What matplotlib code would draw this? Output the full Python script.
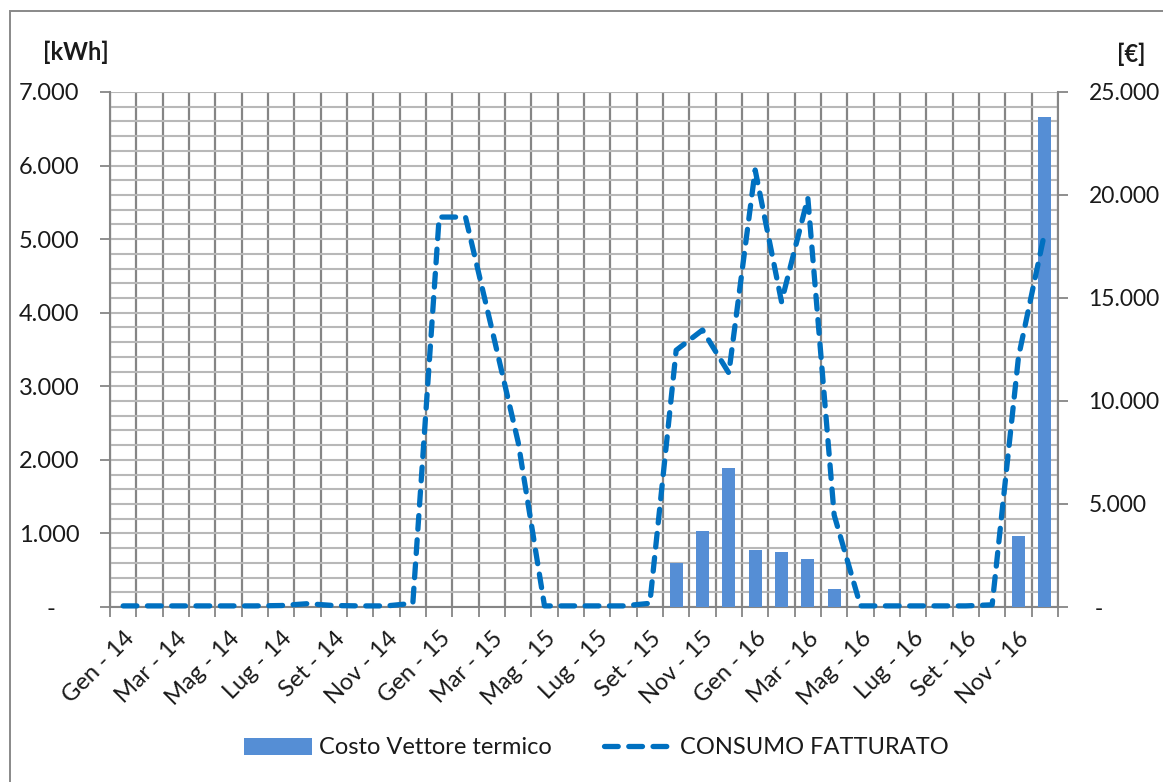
import numpy as np
import matplotlib
matplotlib.use("Agg")
import matplotlib.pyplot as plt
from matplotlib.patches import Rectangle, Patch
from matplotlib.lines import Line2D
from matplotlib.ticker import FuncFormatter

plt.rcParams['font.family'] = ['Lato', 'DejaVu Sans']

months = ["Gen", "Feb", "Mar", "Apr", "Mag", "Giu", "Lug", "Ago", "Set", "Ott", "Nov", "Dic"]
years = ["14", "15", "16"]
categories = [f"{m} - {y}" for y in years for m in months]

# CONSUMO FATTURATO [kWh]
consumo = [15, 15, 15, 15, 15, 15, 20, 45, 20, 15, 15, 50,
           5300, 5300, 3780, 2240, 15, 15, 15, 15, 50, 3490, 3765, 3180,
           5940, 4150, 5560, 1250, 15, 15, 15, 15, 15, 30, 3400, 5100]
# Costo Vettore termico [€]
costo = [0, 0, 0, 0, 0, 0, 0, 0, 0, 0, 0, 0,
         0, 0, 0, 0, 0, 0, 0, 0, 0, 2150, 3690, 6750,
         2770, 2690, 2310, 890, 0, 0, 0, 0, 0, 0, 3450, 23800]

left_ticks = [0, 1000, 2000, 3000, 4000, 5000, 6000, 7000]
right_ticks = [0, 5000, 10000, 15000, 20000, 25000]

W, H = 1163, 782
fig = plt.figure(figsize=(W / 100, H / 100), dpi=100)
ax = fig.add_axes([110 / W, 175 / H, 948 / W, 515 / H])

txt = '#1a1a1a'
gcol_v = '#858585'
gcol_h = '#b8b8b8'
spine_col = '#868686'
fs = 17
fs_r = 16.5

n = len(categories)
x = np.arange(n)

def fmt(v, pos, zero):
    if v == 0:
        return zero
    return f"{int(v):,}".replace(",", ".")

# primary axis: kWh with grid
ax.set_xlim(-0.5, n - 0.5)
ax.set_ylim(0, 7000)
ax.set_xticks(np.arange(-0.5, n, 1))
ax.set_xticklabels([])
ax.set_xticks(x[::2], minor=True)
ax.set_xticklabels(categories[::2], minor=True, rotation=45, ha='right',
                   rotation_mode='anchor', fontsize=fs, color=txt)
ax.set_yticks(left_ticks)
ax.set_yticks(np.arange(0, 7001, 200), minor=True)
ax.yaxis.set_major_formatter(FuncFormatter(lambda v, p: fmt(v, p, '-    ')))
ax.grid(axis='x', which='major', color=gcol_v, lw=1.6)
ax.grid(axis='y', which='both', color=gcol_h, lw=1.5)
ax.set_axisbelow(True)
ax.tick_params(axis='x', which='major', length=7, width=1.3, color=spine_col, direction='out')
ax.tick_params(axis='x', which='minor', length=0, pad=15)
ax.tick_params(axis='y', which='major', length=7, width=1.3, color=spine_col,
               labelsize=fs, labelcolor=txt, pad=15)
ax.tick_params(axis='y', which='minor', length=0)
for s in ['top', 'right']:
    ax.spines[s].set_visible(False)
for s in ['left', 'bottom']:
    ax.spines[s].set_color(spine_col)
    ax.spines[s].set_linewidth(1.5)

# secondary axis: € with bars
ax2 = ax.twinx()
ax2.set_ylim(0, 25000)
ax2.set_yticks(right_ticks)
ax2.yaxis.set_major_formatter(FuncFormatter(lambda v, p: fmt(v, p, ' -')))
ax2.bar(x, costo, width=0.5, color='#558ED5', zorder=2)
ax2.tick_params(axis='y', length=7, width=1.3, color=spine_col, labelsize=fs_r,
                labelcolor=txt, pad=15)
for s in ['top', 'left', 'bottom']:
    ax2.spines[s].set_visible(False)
ax2.spines['right'].set_color(spine_col)
ax2.spines['right'].set_linewidth(1.5)

# third layer: line in kWh drawn on top
ax3 = ax.twinx()
ax3.set_ylim(0, 7000)
ax3.set_xlim(-0.5, n - 0.5)
ax3.axis('off')
ax3.plot(x, consumo, color='#0070C0', lw=3.8, dashes=(2.6, 2.0),
         dash_capstyle='round', dash_joinstyle='round', clip_on=False)

# unit labels
fig.text(76 / W, 1 - 52 / H, '[kWh]', fontsize=fs, fontweight='bold', color=txt,
         ha='center', va='center')
fig.text(1131 / W, 1 - 54 / H, '[€]', fontsize=fs, fontweight='bold', color=txt,
         ha='center', va='center')

# legend
handles = [Patch(facecolor='#558ED5', edgecolor='none', label='Costo Vettore termico'),
           Line2D([0], [0], color='#0070C0', lw=3.8, dashes=(2.6, 2.0),
                  dash_capstyle='round', label='CONSUMO FATTURATO')]
fig.legend(handles=handles, loc='center', bbox_to_anchor=(596 / W, 1 - 748 / H),
           ncol=2, frameon=False, fontsize=fs, handlelength=2.9, handleheight=0.75,
           handletextpad=0.3, columnspacing=2.2, labelcolor=txt)

# outer border (only left and top edges fall inside the image)
fig.patches.append(Rectangle((10 / W, -20 / H), (W + 30) / W, (H - 11 + 20) / H,
                             transform=fig.transFigure, fill=False,
                             edgecolor='#898989', lw=1.4))

fig.savefig('out.png', dpi=100)
